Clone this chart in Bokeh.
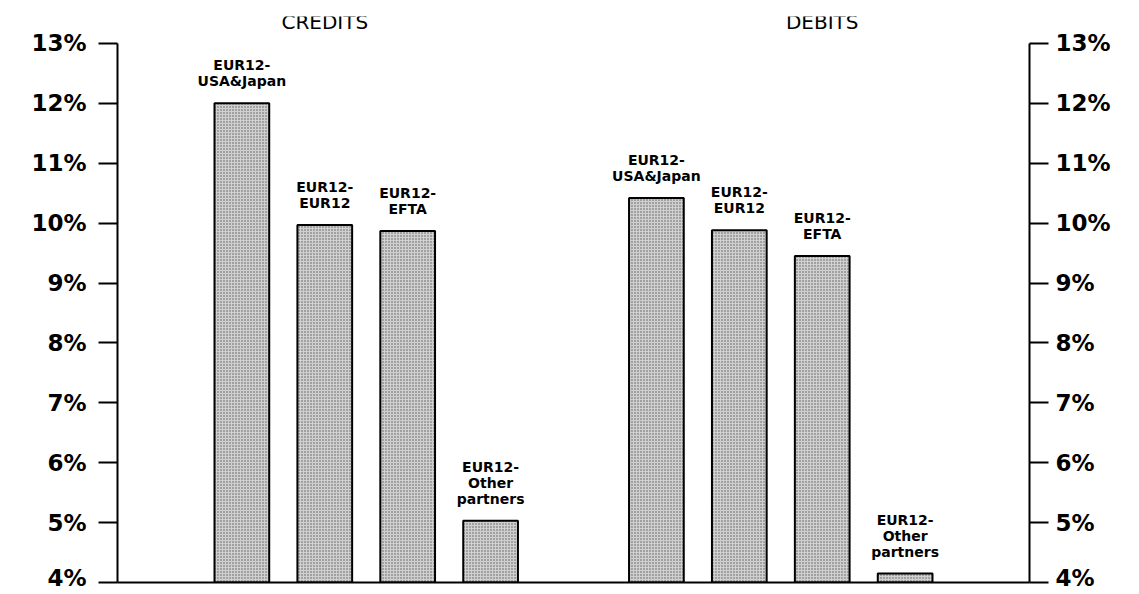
from bokeh.plotting import figure
from bokeh.models import (ColumnDataSource, Range1d, LinearAxis, FixedTicker,
                          PrintfTickFormatter, LabelSet)
from bokeh.core.properties import value
from bokeh.embed import file_html
from bokeh.resources import INLINE

# ---- data ----
groups = ["CREDITS", "DEBITS"]
partners = ["EUR12-\nUSA&Japan", "EUR12-\nEUR12", "EUR12-\nEFTA", "EUR12-\nOther\npartners"]
credits = [12.0, 9.97, 9.87, 5.03]
debits = [10.42, 9.88, 9.45, 4.15]
y_ticks = [4, 5, 6, 7, 8, 9, 10, 11, 12, 13]

# ---- positions (bar slots) ----
xs, tops, labels = [], [], []
for gi, vals in enumerate([credits, debits]):
    for i, v in enumerate(vals):
        xs.append(gi * (len(vals) + 1) + i)
        tops.append(v)
        labels.append(partners[i])
src = ColumnDataSource(dict(x=xs, top=tops, label=labels))

YMAX = 13.45
p = figure(width=1135, height=590, output_backend="svg", toolbar_location=None,
           x_range=Range1d(-1.5, 9.5), y_range=Range1d(4, YMAX),
           min_border_left=117, min_border_right=106, min_border_top=16,
           min_border_bottom=8)
p.outline_line_color = None
p.grid.visible = False
p.background_fill_color = "white"
p.border_fill_color = "white"

p.vbar(x="x", top="top", bottom=4, width=0.66, source=src,
       fill_color="#d0d0d0", line_color="black", line_width=2,
       hatch_pattern="dot", hatch_color="#5a5a5a", hatch_scale=3, hatch_weight=1)

# bar labels, one centred LabelSet per line (counted from the bottom line)
LINE_H = 16
BASE_OFF = 14
max_lines = max(len(l.split("\n")) for l in labels)
for k in range(max_lines):
    lx, ly, lt = [], [], []
    for x, t, lab in zip(xs, tops, labels):
        lines = lab.split("\n")
        if k < len(lines):
            lx.append(x)
            ly.append(t)
            lt.append(lines[len(lines) - 1 - k])
    ls = ColumnDataSource(dict(x=lx, y=ly, t=lt))
    p.add_layout(LabelSet(x="x", y="y", text="t", source=ls,
                          text_align=value("center"), text_baseline=value("bottom"),
                          y_offset=BASE_OFF + k * LINE_H,
                          text_font=value("DejaVu Sans"), text_font_style=value("bold"),
                          text_font_size=value("14px"), text_color=value("black")))

tsrc = ColumnDataSource(dict(x=[1, 7], y=[YMAX - 0.1, YMAX - 0.1], t=groups))
p.text(x="x", y="y", text="t", source=tsrc, text_align="center",
       text_baseline="middle", text_font=value("DejaVu Sans"),
       text_font_size="20px", text_color="black")

def style_y(ax, standoff):
    ax.ticker = FixedTicker(ticks=y_ticks)
    ax.bounds = (4, 13)
    ax.formatter = PrintfTickFormatter(format="%d%%")
    ax.axis_line_width = 2
    ax.axis_line_color = "black"
    ax.major_tick_line_width = 2
    ax.major_tick_line_color = "black"
    ax.major_tick_in = 0
    ax.major_tick_out = 19
    ax.minor_tick_line_color = None
    ax.major_label_standoff = standoff
    ax.major_label_text_font = "DejaVu Sans"
    ax.major_label_text_font_style = "bold"
    ax.major_label_text_font_size = "23px"
    ax.major_label_text_color = "black"

style_y(p.yaxis[0], 12)
ra = LinearAxis()
p.add_layout(ra, "right")
style_y(ra, 7)

xa = p.xaxis[0]
xa.ticker = FixedTicker(ticks=[])
xa.axis_line_width = 2
xa.axis_line_color = "black"
xa.major_tick_line_color = None
xa.minor_tick_line_color = None
xa.major_label_text_font_size = "0px"

open("out.html", "w").write(file_html(p, INLINE))
